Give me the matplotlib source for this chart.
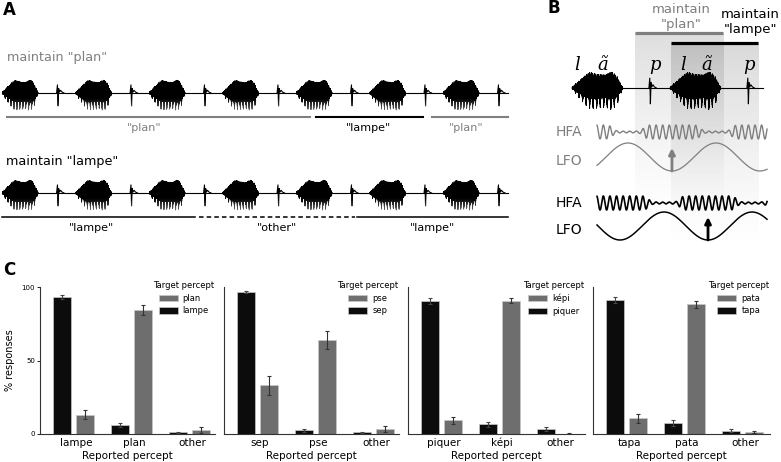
import numpy as np
import matplotlib.pyplot as plt

W, H = 781, 462

# ---------------- panel C data ----------------
reported = [["lampe", "plan", "other"], ["sep", "pse", "other"],
            ["piquer", "képi", "other"], ["tapa", "pata", "other"]]
target_dark = ["lampe", "sep", "piquer", "tapa"]
target_gray = ["plan", "pse", "képi", "pata"]
pct_dark = [[93.2, 6.1, 1.1], [96.6, 2.4, 1.3], [90.5, 6.5, 3.4], [91.0, 7.2, 2.2]]
err_dark = [[1.5, 1.5, 0.5], [0.8, 1.0, 0.4], [2.0, 1.5, 1.5], [2.0, 2.0, 1.0]]
pct_gray = [[13.1, 84.2, 2.9], [33.0, 63.9, 3.6], [9.2, 90.8, 0.3], [10.8, 88.3, 1.3]]
err_gray = [[3.0, 3.4, 2.0], [6.2, 5.9, 2.0], [2.5, 2.0, 0.2], [3.0, 2.5, 0.7]]
yticks = [0, 50, 100]

# ---------------- panel A data (time in word repetitions) ----------------
n_reps = 7
blob_on, blob_len, burst_at = 0.03, 0.49, 0.79
row1_segments = [(0.09, 4.22, "gray", "-"), (4.30, 5.76, "black", "-"), (5.88, 6.91, "gray", "-")]
row1_labels = [(1.96, '"plan"', "gray"), (5.02, '"lampe"', "black"), (6.34, '"plan"', "gray")]
row2_segments = [(0.03, 2.65, "black", "-"), (2.71, 4.83, "black", "--"), (4.86, 6.91, "black", "-")]
row2_labels = [(1.25, '"lampe"'), (3.77, '"other"'), (5.88, '"lampe"')]

# envelope of the "lã" vowel (0..1 across the blob)
env_x = [0, 0.1, 0.25, 0.35, 0.5, 0.65, 0.78, 0.88, 0.95, 1.0]
env_up = [0.05, 0.25, 0.55, 0.72, 0.62, 0.6, 0.74, 0.55, 0.22, 0.02]
env_dn = [0.05, 0.35, 0.75, 0.95, 0.92, 0.88, 1.0, 0.8, 0.35, 0.02]
# "p" burst shape (offset in px, value)
burst_dx = [-1.5, -0.6, 0.0, 0.6, 1.4, 2.5, 4.0, 6.0]
burst_val = [0.0, 0.45, -0.72, 0.25, 0.05, 0.15, 0.05, 0.0]

# ---------------- panel B data (time in stimulus periods) ----------------
b_onsets = [0.0, 1.0]
b_len, b_burst, b_end = 0.52, 0.80, 1.95
phonemes = [(0.05, "l"), (0.31, "ã"), (0.85, "p"), (1.13, "l"), (1.38, "ã"), (1.81, "p")]
osc_start, osc_end = 0.255, 1.99
lfo_period, hfa_period = 0.898, 0.0673
trough_gray, trough_black = 1.02, 1.388
win_plan = (0.643, 1.541)
win_lampe = (1.01, 1.898)

GRAY = "#7f7f7f"

fig = plt.figure(figsize=(W / 100, H / 100), dpi=100)


def rect(x0, y0, x1, y1):
    return [x0 / W, 1 - y1 / H, (x1 - x0) / W, (y1 - y0) / H]


def speech(ax, onsets, length, burst, base, scale, px, pitch, end=None):
    for t0 in onsets:
        u = np.linspace(0, 1, 1600)
        up = np.interp(u, env_x, env_up)
        dn = np.interp(u, env_x, env_dn)
        ph = np.pi * u * length / pitch
        pulse = 0.5 + 0.5 * np.cos(ph) ** 10
        jag = 0.6 + 0.4 * np.abs(np.sin(2.3 * ph)) ** 3
        sgn = np.arange(u.size) % 2 == 0
        val = np.where(sgn, up * jag, -dn * pulse)
        ax.plot(t0 + u * length, base - scale * val, color="black", lw=0.35)
        bx = t0 + burst + np.array(burst_dx) / px
        ax.plot(bx, base - scale * np.array(burst_val), color="black", lw=0.8)
    stop = end if end is not None else onsets[-1] + burst + 8 / px
    ax.plot([onsets[0], stop], [base, base], color="black", lw=0.8, zorder=0)


def fade_below(ax, x0, x1, y_top, y_bot, a_max):
    img = np.ones((100, 2, 4))
    img[..., 3] = (a_max * np.linspace(0, 1, 100) ** 1.2)[:, None]
    ax.imshow(img, extent=(x0, x1, y_bot, y_top), origin="upper", aspect="auto",
              zorder=5, interpolation="bilinear")


# ---------------- panel A ----------------
pxA = 73.5
axA = fig.add_axes(rect(0, 0, n_reps * pxA, 240))
onsets = [blob_on + i for i in range(n_reps)]
axA.text(0.04, 10, "A", fontsize=12, fontweight="bold", va="center")

axA.text(0.09, 58, 'maintain "plan"', color=GRAY, fontsize=9.2, va="center")
speech(axA, onsets, blob_len, burst_at - blob_on, 93, 18, pxA, 0.04, end=6.91)
fade_below(axA, 0, n_reps, 98, 112, 0.5)
for x0, x1, c, ls in row1_segments:
    axA.plot([x0, x1], [117, 117], color=GRAY if c == "gray" else "black", lw=1.5, ls=ls)
for x, s, c in row1_labels:
    axA.text(x, 128, s, color=GRAY if c == "gray" else "black", fontsize=8, ha="center", va="center")

axA.text(0.08, 162, 'maintain "lampe"', color="black", fontsize=9.2, va="center")
speech(axA, onsets, blob_len, burst_at - blob_on, 193, 18, pxA, 0.04, end=6.91)
fade_below(axA, 0, n_reps, 198, 212, 0.5)
for x0, x1, c, ls in row2_segments:
    axA.plot([x0, x1], [217.5, 217.5], color="black", lw=1.1, ls=ls,
             dashes=(3, 2) if ls == "--" else (None, None))
for x, s in row2_labels:
    axA.text(x, 228, s, color="black", fontsize=8, ha="center", va="center")
axA.set_xlim(0, n_reps)
axA.set_ylim(240, 0)
axA.axis("off")

# ---------------- panel B ----------------
pxB = 98
x0B = 572
axB = fig.add_axes(rect(540, 0, W, 250))
axB.text(-0.255, 8, "B", fontsize=12, fontweight="bold", va="center")


def shade(win, y_top, y_bot, a0):
    alpha = a0 * np.linspace(1, 0, 200) ** 1.3
    img = np.zeros((200, 2, 4))
    img[..., 3] = alpha[:, None]
    axB.imshow(img, extent=(win[0], win[1], y_bot, y_top), origin="upper",
               aspect="auto", zorder=0, interpolation="bilinear")


shade(win_plan, 33, 225, 0.13)
shade(win_lampe, 43, 255, 0.15)
axB.plot(win_plan, [33, 33], color=GRAY, lw=2.3, solid_capstyle="butt")
axB.plot(win_lampe, [43, 43], color="black", lw=2.3, solid_capstyle="butt")
axB.text(sum(win_plan) / 2 + 0.02, 17, 'maintain\n"plan"', color=GRAY, fontsize=9.5,
         ha="center", va="center", linespacing=1.15)
axB.text((W - 1 - x0B) / pxB, 22, 'maintain\n"lampe"', color="black", fontsize=9.5,
         ha="right", va="center", linespacing=1.15, multialignment="center")

for x, s in phonemes:
    axB.text(x, 65, s, fontsize=13, family="DejaVu Serif", style="italic", ha="center", va="center")
speech(axB, b_onsets, b_len, b_burst, 88, 22, pxB, 0.036, end=b_end)

t = np.linspace(osc_start, osc_end, 3000)
for trough, col, y_hfa, y_lfo, lw in [(trough_gray, GRAY, 132, 157, 1.0),
                                      (trough_black, "black", 203, 226, 1.2)]:
    c = np.cos(2 * np.pi * (t - trough) / lfo_period)
    amp = 0.12 + 0.88 / (1 + np.exp(-10 * (c + 0.45)))
    axB.plot(t, y_hfa + 7 * amp * np.sin(2 * np.pi * t / hfa_period), color=col, lw=lw)
    axB.plot(t, y_lfo + 14 * c, color=col, lw=lw * 0.9)
    axB.annotate("", xy=(trough, y_lfo - 9), xytext=(trough, y_lfo + 14),
                 arrowprops=dict(arrowstyle="-|>", color=col, lw=2, mutation_scale=9,
                                 shrinkA=0, shrinkB=0))
    axB.text(-0.17, y_hfa, "HFA", color=col, fontsize=10, va="center")
    axB.text(-0.17, y_lfo + 4, "LFO", color=col, fontsize=10, va="center")
axB.set_xlim((540 - x0B) / pxB, (W - x0B) / pxB)
axB.set_ylim(250, 0)
axB.axis("off")

# ---------------- panel C ----------------
fig.text(3 / W, 1 - 270 / H, "C", fontsize=12, fontweight="bold", va="center")
positions = [(40, 215), (224, 399), (408, 585), (593, 770)]
for k, (xa, xb) in enumerate(positions):
    ax = fig.add_axes(rect(xa, 287, xb, 434))
    x = np.arange(3)
    hd = ax.bar(x - 0.2, pct_dark[k], 0.31, color="#0c0c0c", edgecolor="#c8c8c8", lw=0.5)
    ax.errorbar(x - 0.2, pct_dark[k], yerr=err_dark[k], fmt="none", ecolor="#444444",
                elinewidth=0.8, capsize=1.5, capthick=0.8)
    hg = ax.bar(x + 0.2, pct_gray[k], 0.31, color="#6e6e6e", edgecolor="#c8c8c8", lw=0.5)
    ax.errorbar(x + 0.2, pct_gray[k], yerr=err_gray[k], fmt="none", ecolor="#333333",
                elinewidth=0.8, capsize=1.5, capthick=0.8)
    ax.set_xlim(-0.58, -0.58 + (xb - xa) / 58)
    ax.set_ylim(0, 100)
    ax.set_xticks(x + 0.04)
    ax.set_xticklabels(reported[k], fontsize=7.5)
    for lab in ax.get_xticklabels():
        lab.set_verticalalignment("baseline")
    ax.tick_params(axis="x", length=0, pad=8.5)
    ax.set_yticks(yticks)
    if k == 0:
        ax.set_yticklabels([str(v) for v in yticks], fontsize=5)
        ax.tick_params(axis="y", length=2, width=0.6, pad=1.5)
        ax.set_ylabel("% responses", fontsize=7)
        ax.yaxis.set_label_coords(-0.14, 0.5)
    else:
        ax.tick_params(axis="y", length=0, labelleft=False)
    ax.set_xlabel("Reported percept", fontsize=7.5, labelpad=1)
    ax.xaxis.set_label_coords(0.5, -0.115)
    for s in ["top", "right"]:
        ax.spines[s].set_visible(False)
    for s in ["left", "bottom"]:
        ax.spines[s].set_linewidth(0.8)
        ax.spines[s].set_color("#333333")
    ax.legend([hg, hd], [target_gray[k], target_dark[k]], title="Target percept",
              loc="upper right", bbox_to_anchor=(1.02, 1.07), frameon=False,
              fontsize=6, title_fontsize=6, handlelength=2.3, handleheight=0.8,
              labelspacing=0.45, handletextpad=0.6, borderpad=0)

fig.savefig("out.png", dpi=100)
